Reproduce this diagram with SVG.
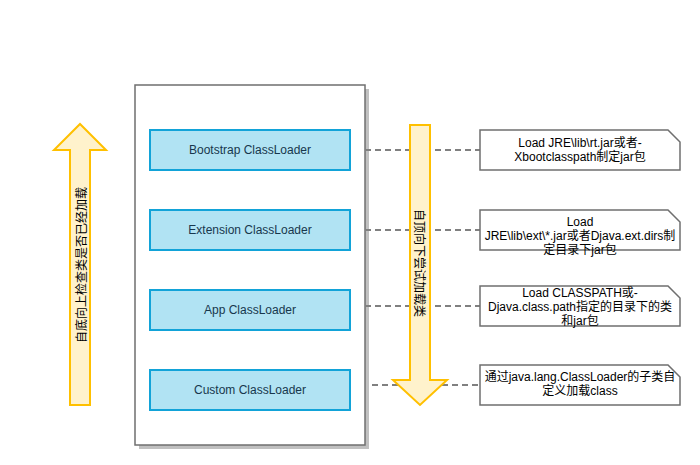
<svg xmlns="http://www.w3.org/2000/svg" width="700" height="465" viewBox="0 0 700 465">
<style>
text{font-family:"Liberation Sans","Noto Sans CJK SC",Arial,sans-serif;font-size:12px;text-anchor:middle}
.loader rect{fill:#b1e3f3;stroke:#12a3d8;stroke-width:2}
.loader text{fill:#17374d}
.note path{fill:#ffffff;stroke:#6f6f6f;stroke-width:1.5}
.note text{fill:#000000}
.arrow polygon{fill:#fff2cc;stroke:#ffc000;stroke-width:2}
.arrow text{fill:#000000}
.conn line{stroke:#808080;stroke-width:2;stroke-dasharray:6 4}
</style>
<rect width="700" height="465" fill="#ffffff"/>
<g id="container">
<rect x="139" y="89" width="230" height="360" fill="#c0c0c0"/>
<rect x="135" y="85" width="230" height="360" fill="#ffffff" stroke="#6f6f6f" stroke-width="1.5"/>
</g>
<g id="bootstrap" class="loader"><rect x="150" y="130" width="200" height="40"/><text x="250" y="154">Bootstrap ClassLoader</text></g>
<g id="extension" class="loader"><rect x="150" y="210" width="200" height="40"/><text x="250" y="234">Extension ClassLoader</text></g>
<g id="app" class="loader"><rect x="150" y="290" width="200" height="40"/><text x="250" y="314">App ClassLoader</text></g>
<g id="custom" class="loader"><rect x="150" y="370" width="200" height="40"/><text x="250" y="394">Custom ClassLoader</text></g>
<g id="connectors" class="conn">
<line x1="365" y1="150" x2="480" y2="150"/>
<line x1="365" y1="230" x2="480" y2="230"/>
<line x1="365" y1="306" x2="480" y2="306"/>
<line x1="372" y1="385" x2="480" y2="385"/>
</g>
<g id="up-arrow" class="arrow">
<polygon points="70,405 70,150 54,150 80,124 106,150 90,150 90,405"/>
<text transform="translate(85.5,265) rotate(-90)">自底向上检查类是否已经加载</text>
</g>
<g id="down-arrow" class="arrow">
<polygon points="410,125 430,125 430,380 447,380 420,405 393,380 410,380"/>
<text transform="translate(414.5,263) rotate(90)">自顶向下尝试加载类</text>
</g>
<g id="note-bootstrap" class="note">
<path d="M480,130 H668 L680,142 V170 H480 Z"/>
<text x="580" y="147">Load JRE\lib\rt.jar或者-</text>
<text x="580" y="161">Xbootclasspath制定jar包</text>
</g>
<g id="note-extension" class="note">
<path d="M480,210 H668 L680,222 V250 H480 Z"/>
<text x="580" y="226">Load</text>
<text x="580" y="240">JRE\lib\ext\*.jar或者Djava.ext.dirs制</text>
<text x="580" y="254">定目录下jar包</text>
</g>
<g id="note-app" class="note">
<path d="M480,286 H668 L680,298 V326 H480 Z"/>
<text x="580" y="297">Load CLASSPATH或-</text>
<text x="580" y="311">Djava.class.path指定的目录下的类</text>
<text x="580" y="325">和jar包</text>
</g>
<g id="note-custom" class="note">
<path d="M480,365 H668 L680,377 V405 H480 Z"/>
<text x="580" y="381">通过java.lang.ClassLoader的子类自</text>
<text x="580" y="395">定义加载class</text>
</g>
</svg>
